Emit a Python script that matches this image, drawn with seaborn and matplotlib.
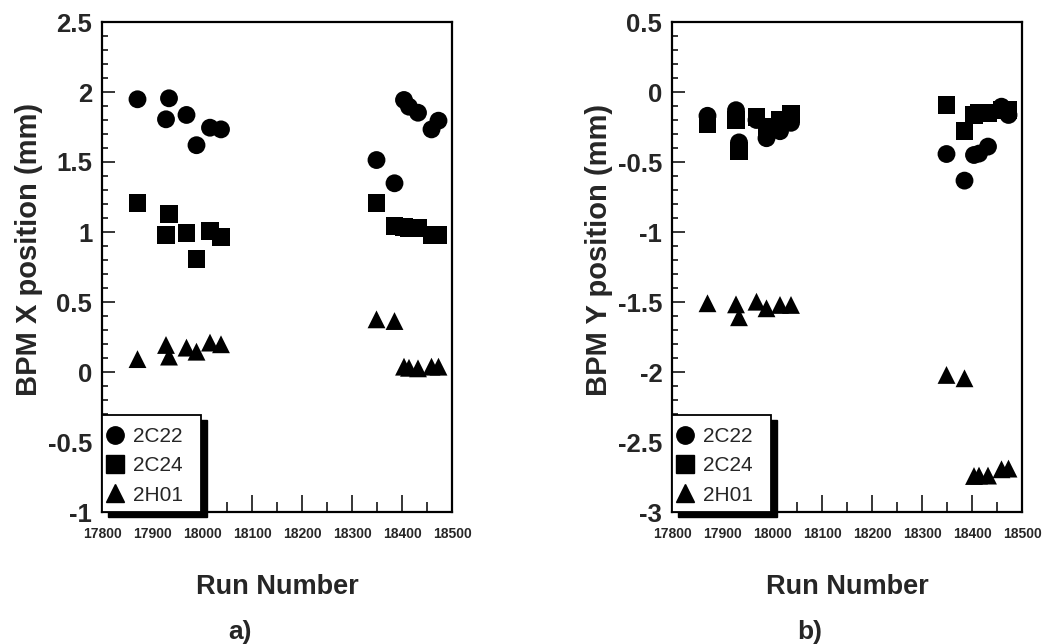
import numpy as np
import pandas as pd
import matplotlib
matplotlib.use("Agg")
import matplotlib.pyplot as plt
from matplotlib.lines import Line2D
from matplotlib.patches import Rectangle
from matplotlib.ticker import MultipleLocator
import seaborn as sns

sns.set_style("white")
plt.rcParams['font.family'] = ['Liberation Sans', 'DejaVu Sans']

# ---------------- data ----------------
runs = [17871, 17928, 17934, 17969, 17989, 18016, 18038,
        18349, 18385, 18404, 18414, 18432, 18459, 18473]
series_names = ["2C22", "2C24", "2H01"]

x_2c22 = [1.948, 1.805, 1.955, 1.836, 1.62, 1.745, 1.733,
          1.514, 1.348, 1.943, 1.895, 1.852, 1.733, 1.795]
x_2c24 = [1.21, 0.979, 1.129, 0.99, 0.807, 1.007, 0.962,
          1.21, 1.043, 1.038, 1.030, 1.026, 0.979, 0.979]
x_2h01 = [0.092, 0.193, 0.11, 0.174, 0.145, 0.21, 0.198,
          0.376, 0.364, 0.038, 0.03, 0.026, 0.038, 0.038]

y_2c22 = [-0.17, -0.13, -0.36, -0.20, -0.33, -0.28, -0.22,
          -0.443, -0.633, -0.45, -0.44, -0.39, -0.105, -0.164]
y_2c24 = [-0.23, -0.20, -0.42, -0.18, -0.25, -0.20, -0.16,
          -0.093, -0.279, -0.164, -0.152, -0.15, -0.13, -0.13]
y_2h01 = [-1.509, -1.517, -1.609, -1.498, -1.545, -1.521, -1.521,
          -2.021, -2.045, -2.743, -2.74, -2.74, -2.695, -2.69]

x_ticks = [17800, 17900, 18000, 18100, 18200, 18300, 18400, 18500]


def long_frame(vals):
    rows = []
    for name, v in zip(series_names, vals):
        for r, val in zip(runs, v):
            rows.append({"run": r, "pos": val, "bpm": name})
    return pd.DataFrame(rows)


df_x = long_frame([x_2c22, x_2c24, x_2h01])
df_y = long_frame([y_2c22, y_2c24, y_2h01])

markers = {"2C22": "o", "2C24": "s", "2H01": "^"}

fig = plt.figure(figsize=(10.46, 6.44), dpi=100)
W, H = 1046, 644
ax_w = 350 / W
ax_h = 490 / H
ax_b = (H - 512) / H
ax1 = fig.add_axes([102 / W, ax_b, ax_w, ax_h])
ax2 = fig.add_axes([672 / W, ax_b, ax_w, ax_h])


def style_axes(ax, df, ylim, ylabel, panel):
    sns.scatterplot(data=df, x="run", y="pos", style="bpm", markers=markers,
                    color="black", s=165, linewidth=0, legend=False, ax=ax,
                    zorder=3)
    ax.set_xlim(17800, 18500)
    ax.set_ylim(*ylim)
    ax.set_xticks(x_ticks)
    ax.set_xticklabels([str(t) for t in x_ticks])
    ax.xaxis.set_minor_locator(MultipleLocator(50))
    ax.yaxis.set_major_locator(MultipleLocator(0.5))
    ax.yaxis.set_minor_locator(MultipleLocator(0.1))
    ax.set_yticklabels([("%g" % t) for t in ax.get_yticks()])
    ax.tick_params(axis="x", which="major", direction="in", length=12,
                   width=1.3, labelsize=10, pad=10.5, bottom=True, top=False)
    ax.tick_params(axis="x", which="minor", direction="in", length=7,
                   width=1.3, bottom=True, top=False)
    ax.tick_params(axis="y", which="major", direction="in", length=9,
                   width=1.3, labelsize=18.5, pad=7, left=True, right=False)
    ax.tick_params(axis="y", which="minor", direction="in", length=4.5,
                   width=1.3, left=True, right=False)
    for lab in ax.get_xticklabels() + ax.get_yticklabels():
        lab.set_fontweight("bold")
    for sp in ax.spines.values():
        sp.set_visible(True)
        sp.set_color("black")
        sp.set_linewidth(1.6)
    ax.set_xlabel("Run Number", fontsize=19.5, fontweight="bold", labelpad=24)
    ax.set_ylabel(ylabel, fontsize=21, fontweight="bold")
    ax.yaxis.set_label_coords(-0.168, 0.535)
    ax.grid(False)

    # legend box with solid black shadow
    bw, bh = 99 / 350, 97 / 490
    shadow = Rectangle((6 / 350, -5 / 490), bw, bh, transform=ax.transAxes,
                       facecolor="black", edgecolor="black", clip_on=False,
                       zorder=4)
    box = Rectangle((0, 0), bw, bh, transform=ax.transAxes,
                    facecolor="white", edgecolor="black", linewidth=1.3,
                    clip_on=False, zorder=5)
    ax.add_patch(shadow)
    ax.add_patch(box)
    handles = [Line2D([], [], linestyle="none", marker=markers[n],
                      color="black", markersize=13 if n != "2C22" else 12.5)
               for n in series_names]
    leg = ax.legend(handles, series_names, loc="lower left",
                    bbox_to_anchor=(-0.008, 0.0), frameon=False, fontsize=15,
                    handlelength=0.8, handletextpad=0.45, labelspacing=0.5,
                    borderpad=0.35, borderaxespad=0.0)
    leg.set_zorder(6)

    fig.text((ax.get_position().x0 + ax.get_position().x1) / 2 - 37 / W,
             (H - 632) / H, panel, fontsize=19, fontweight="bold",
             ha="center", va="center")


style_axes(ax1, df_x, (-1, 2.5), "BPM X position (mm)", "a)")
style_axes(ax2, df_y, (-3, 0.5), "BPM Y position (mm)", "b)")

fig.savefig("out.png", dpi=100, facecolor="white")
